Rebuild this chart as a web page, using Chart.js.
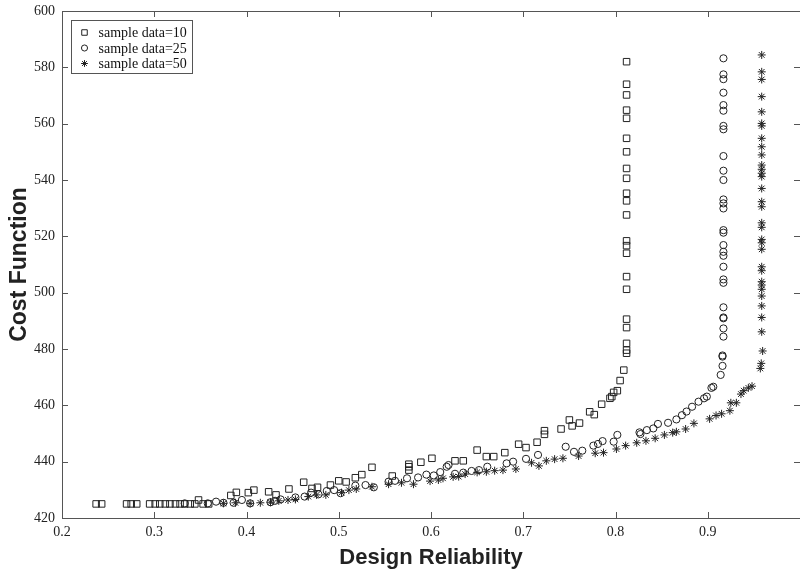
<!DOCTYPE html>
<html>
<head>
<meta charset="utf-8">
<script src="https://cdn.jsdelivr.net/npm/chart.js@4/dist/chart.umd.min.js"></script>
<style>
  body { margin: 0; background: #fff; }
  #wrap { width: 800px; height: 574px; }
</style>
</head>
<body>
<div id="wrap"><canvas id="costchart"></canvas></div>
<script>
// sample data=10 (squares)
const rel10 = [0.237, 0.243, 0.270, 0.275, 0.281, 0.295, 0.301, 0.306, 0.312, 0.317, 0.323, 0.328, 0.333, 0.339, 0.344, 0.348, 0.353, 0.359,
  0.383, 0.389, 0.402, 0.408, 0.424, 0.432, 0.446, 0.462, 0.471, 0.477, 0.491, 0.500, 0.508, 0.518, 0.525, 0.536, 0.558,
  0.576, 0.576, 0.576, 0.589, 0.601, 0.626, 0.635, 0.650, 0.660, 0.668, 0.680, 0.695, 0.703, 0.715, 0.723, 0.723,
  0.741, 0.750, 0.753, 0.761, 0.772, 0.777, 0.785, 0.794, 0.796, 0.798, 0.802, 0.805, 0.809,
  0.812, 0.812, 0.812, 0.812, 0.812, 0.812, 0.812, 0.812, 0.812, 0.812, 0.812, 0.812, 0.812, 0.812, 0.812, 0.812, 0.812, 0.812, 0.812, 0.812, 0.812, 0.812];
const cost10 = [425, 425, 425, 425, 425, 425, 425, 425, 425, 425, 425, 425, 425, 425, 425, 426.4, 425, 425,
  428.0, 429.1, 429.0, 429.9, 429.3, 428.2, 430.3, 432.7, 430.5, 430.9, 431.7, 433.2, 432.8, 434.3, 435.4, 438.0, 434.9,
  439.1, 438.2, 437.0, 439.8, 441.2, 440.3, 440.3, 444.1, 441.8, 441.8, 443.2, 446.2, 445.0, 446.9, 451.0, 449.7,
  451.6, 454.8, 452.7, 453.7, 457.7, 456.7, 460.4, 462.5, 463.1, 464.6, 465.2, 468.8, 472.5,
  478.5, 479.6, 482.0, 487.6, 490.6, 501.2, 505.7, 514.0, 516.7, 518.4, 527.6, 532.6, 535.3, 540.6, 544.1, 550.0, 554.8, 561.9, 564.8, 570.2, 574.0, 582.0];

// sample data=25 (circles)
const rel25 = [0.333, 0.358, 0.367, 0.375, 0.386, 0.395, 0.404, 0.426, 0.431, 0.437, 0.453, 0.463, 0.470, 0.478, 0.487, 0.495, 0.502,
  0.518, 0.529, 0.538, 0.554, 0.561, 0.574, 0.586, 0.595, 0.603, 0.610, 0.617, 0.619, 0.626, 0.635, 0.644, 0.652, 0.661,
  0.682, 0.689, 0.703, 0.716, 0.746, 0.755, 0.764, 0.776, 0.781, 0.786, 0.798, 0.802, 0.826, 0.827, 0.834, 0.841, 0.846,
  0.857, 0.866, 0.872, 0.877, 0.883, 0.890, 0.896, 0.899, 0.904, 0.906,
  0.914, 0.916, 0.916, 0.916, 0.917, 0.917, 0.917, 0.917, 0.917, 0.917, 0.917, 0.917, 0.917, 0.917, 0.917, 0.917, 0.917, 0.917,
  0.917, 0.917, 0.917, 0.917, 0.917, 0.917, 0.917, 0.917, 0.917, 0.917, 0.917, 0.917, 0.917];
const cost25 = [425.2, 425.2, 425.8, 425.4, 425.4, 426.4, 425.2, 425.6, 426.1, 426.6, 427.3, 427.6, 429.0, 428.4, 429.6, 429.9, 428.8,
  431.5, 431.7, 430.9, 432.9, 433.2, 434.1, 434.4, 435.4, 435.1, 436.3, 438.2, 438.8, 435.7, 436.1, 436.7, 437.0, 438.2,
  439.4, 440.0, 441.0, 442.4, 445.3, 443.5, 443.9, 445.7, 446.3, 447.3, 447.1, 449.5, 450.4, 449.8, 451.2, 451.8, 453.4,
  453.8, 455.0, 456.5, 457.8, 459.5, 461.3, 462.5, 463.1, 466.2, 466.6,
  470.8, 474.0, 477.3, 477.7, 484.4, 487.3, 490.9, 491.2, 494.8, 503.5, 504.7, 509.2, 513.1, 514.5, 516.9, 521.3, 522.2, 529.9,
  531.7, 533.1, 540.0, 543.3, 548.5, 558.0, 559.2, 564.6, 566.6, 571.0, 575.8, 577.5, 583.2];

// sample data=50 (stars)
const rel50 = [0.375, 0.388, 0.404, 0.415, 0.426, 0.435, 0.445, 0.453, 0.467, 0.476, 0.486, 0.503, 0.511, 0.519, 0.536, 0.554,
  0.568, 0.581, 0.599, 0.608, 0.613, 0.624, 0.630, 0.637, 0.650, 0.660, 0.669, 0.678, 0.692, 0.709, 0.717, 0.725, 0.734,
  0.743, 0.760, 0.778, 0.787, 0.801, 0.811, 0.823, 0.833, 0.843, 0.853, 0.862, 0.866, 0.876, 0.885, 0.902, 0.909, 0.915,
  0.924, 0.925, 0.931, 0.936, 0.939, 0.944, 0.948,
  0.957, 0.958, 0.9595, 0.9585, 0.9585, 0.9585, 0.9585, 0.9585, 0.9585, 0.9585, 0.9585, 0.9585, 0.9585, 0.9585, 0.9585,
  0.9585, 0.9585, 0.9585, 0.9585, 0.9585, 0.9585, 0.9585, 0.9585, 0.9585, 0.9585, 0.9585, 0.9585, 0.9585, 0.9585, 0.9585,
  0.9585, 0.9585, 0.9585, 0.9585];
const cost50 = [425.2, 425.4, 425.2, 425.4, 425.6, 426.1, 426.4, 426.6, 427.6, 428.2, 428.2, 429.0, 429.9, 430.3, 431.1, 432.0,
  432.5, 432.0, 433.1, 433.5, 434.1, 434.6, 434.7, 435.6, 436.2, 436.4, 436.8, 437.0, 437.4, 439.6, 438.5, 440.3, 440.9,
  441.2, 442.0, 443.0, 443.2, 444.5, 445.7, 446.7, 447.4, 448.3, 449.5, 450.3, 450.6, 451.6, 453.6, 455.2, 456.4, 457.0,
  458.1, 460.9, 460.9, 464.0, 465.2, 466.2, 466.8,
  473.1, 474.9, 479.3, 486.1, 491.2, 495.3, 498.8, 501.2, 502.7, 503.9, 507.8, 509.2, 515.4,
  517.7, 518.9, 523.2, 524.8, 530.5, 532.3, 537.0, 541.2, 542.4, 543.8, 545.3, 548.9, 551.8,
  554.8, 559.2, 560.1, 564.2, 569.6, 575.7, 578.4, 584.4];

const seriesLabels = ["sample data=10", "sample data=25", "sample data=50"];
const xTicks = [0.2, 0.3, 0.4, 0.5, 0.6, 0.7, 0.8, 0.9, 1.0];
const yTicks = [420, 440, 460, 480, 500, 520, 540, 560, 580, 600];

const ink = "#222";
const frameColor = "#555";

function toPoints(xs, ys) {
  return xs.map((x, i) => ({ x: x, y: ys[i] }));
}

// box round the plot with inward ticks (matlab style)
const framePlugin = {
  id: "frame",
  beforeDatasetsDraw(chart) {
    const { ctx, chartArea: a, scales } = chart;
    ctx.save();
    ctx.strokeStyle = frameColor;
    ctx.lineWidth = 1;
    ctx.strokeRect(a.left + 0.5, a.top + 0.5, a.right - a.left, a.bottom - a.top);
    ctx.beginPath();
    xTicks.forEach((v) => {
      const px = Math.round(scales.x.getPixelForValue(v)) + 0.5;
      ctx.moveTo(px, a.bottom); ctx.lineTo(px, a.bottom - 6);
      ctx.moveTo(px, a.top); ctx.lineTo(px, a.top + 6);
    });
    yTicks.forEach((v) => {
      const py = Math.round(scales.y.getPixelForValue(v)) + 0.5;
      ctx.moveTo(a.left, py); ctx.lineTo(a.left + 6, py);
      ctx.moveTo(a.right, py); ctx.lineTo(a.right - 6, py);
    });
    ctx.stroke();
    ctx.restore();
  },
};

// legend box in the upper left corner
const boxLegend = {
  id: "boxLegend",
  afterDraw(chart) {
    const { ctx, chartArea: a } = chart;
    const x0 = a.left + 9.5, y0 = a.top + 9.5;
    ctx.save();
    ctx.fillStyle = "#fff";
    ctx.fillRect(x0, y0, 121, 53);
    ctx.strokeStyle = frameColor;
    ctx.lineWidth = 1;
    ctx.strokeRect(x0, y0, 121, 53);
    ctx.font = "14px 'Liberation Serif'";
    ctx.textBaseline = "middle";
    chart.data.datasets.forEach((ds, i) => {
      const cy = y0 + 12 + i * 15.5;
      ctx.strokeStyle = ink;
      ctx.fillStyle = "rgba(0,0,0,0)";
      Chart.helpers.drawPoint(ctx, {
        pointStyle: ds.pointStyle,
        radius: ds.pointRadius * 0.85,
        rotation: 0,
        borderWidth: 1,
      }, x0 + 13, cy);
      ctx.fillStyle = "#111";
      ctx.fillText(ds.label, x0 + 27, cy + 1);
    });
    ctx.restore();
  },
};

new Chart(document.getElementById("costchart"), {
  type: "scatter",
  data: {
    datasets: [
      { label: seriesLabels[0], data: toPoints(rel10, cost10), pointStyle: "rect", pointRadius: 4.6 },
      { label: seriesLabels[1], data: toPoints(rel25, cost25), pointStyle: "circle", pointRadius: 3.6 },
      { label: seriesLabels[2], data: toPoints(rel50, cost50), pointStyle: "star", pointRadius: 4 },
    ].map((ds) => Object.assign(ds, {
      borderColor: ink,
      backgroundColor: "rgba(0,0,0,0)",
      borderWidth: 1,
      pointHoverRadius: ds.pointRadius,
    })),
  },
  options: {
    responsive: true,
    maintainAspectRatio: false,
    animation: false,
    layout: { autoPadding: false, padding: { top: 11, right: 0, left: 0, bottom: 0 } },
    plugins: { legend: { display: false }, tooltip: { enabled: false } },
    scales: {
      x: {
        type: "linear",
        min: 0.2,
        max: 1.0,
        afterBuildTicks: (s) => { s.ticks = xTicks.map((v) => ({ value: v })); },
        afterFit: (s) => { s.height = 56; s.paddingLeft = 0; s.paddingRight = 0; },
        grid: { display: false, drawTicks: false },
        border: { display: false },
        ticks: {
          padding: 6,
          color: "#222",
          font: { family: "'Liberation Serif'", size: 14 },
          callback: (v) => (v >= 0.999 ? "" : (Math.round(v * 10) / 10).toFixed(1)),
        },
        title: {
          display: true,
          text: "Design Reliability",
          color: "#222",
          font: { family: "'Liberation Sans'", size: 22, weight: "bold" },
          padding: { top: 0, bottom: 3 },
        },
      },
      y: {
        type: "linear",
        min: 420,
        max: 600,
        afterBuildTicks: (s) => { s.ticks = yTicks.map((v) => ({ value: v })); },
        afterFit: (s) => { s.width = 62; s.paddingTop = 0; s.paddingBottom = 0; },
        grid: { display: false, drawTicks: false },
        border: { display: false },
        ticks: {
          padding: 7,
          color: "#222",
          font: { family: "'Liberation Serif'", size: 14 },
        },
        title: {
          display: true,
          text: "Cost Function",
          color: "#222",
          font: { family: "'Liberation Sans'", size: 23, weight: "bold" },
          padding: { top: 6, bottom: 0 },
        },
      },
    },
  },
  plugins: [framePlugin, boxLegend],
});
</script>
</body>
</html>
